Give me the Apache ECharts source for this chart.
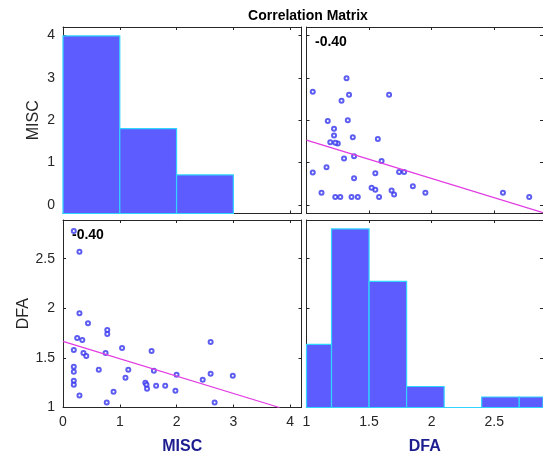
<!DOCTYPE html>
<html>
<head>
<meta charset="utf-8">
<title>Correlation Matrix</title>
<script src="https://cdn.jsdelivr.net/npm/echarts@6/dist/echarts.min.js"></script>
<style>
    html, body { margin: 0; padding: 0; background: #fff; }
    #main { width: 543px; height: 457px; }
</style>
</head>
<body>
<div id="main"></div>
<script type="text/javascript">
    var misc = [0.19, 0.29, 0.29, 0.44, 0.78, 0.78, 0.25, 0.34, 0.19, 0.36, 0.41, 0.75, 1.04,
                1.56, 2.60, 0.19, 0.19, 0.63, 1.15, 1.60, 0.19, 0.19, 1.10, 1.45, 1.47, 1.48,
                1.64, 1.80, 2.00, 2.46, 2.60, 2.99, 1.98, 0.89, 0.29, 0.77, 2.67];
    var dfa = [2.78, 2.57, 1.95, 1.85, 1.78, 1.74, 1.70, 1.68, 1.58, 1.55, 1.52, 1.55, 1.60,
               1.57, 1.66, 1.41, 1.36, 1.38, 1.38, 1.37, 1.27, 1.23, 1.30, 1.25, 1.23, 1.19,
               1.22, 1.22, 1.33, 1.28, 1.34, 1.32, 1.17, 1.16, 1.12, 1.05, 1.05];

    // histograms on the diagonal
    var miscEdges = [0, 1, 2, 3];
    var miscCounts = [23, 11, 5];
    var dfaEdges = [0.9, 1.2, 1.5, 1.8, 2.1, 2.4, 2.7, 3.0];
    var dfaCounts = [6, 17, 12, 2, 0, 1, 1];

    // least squares lines (end points)
    var fitMiscOnDfa = [[1.0, 1.53], [2.89, -0.18]];
    var fitDfaOnMisc = [[0, 1.667], [3.81, 1.0]];
    var corrText = '-0.40';

    // tick labels
    var miscTicks = [0, 1, 2, 3, 4];
    var dfaTicks = [1, 1.5, 2, 2.5];

    var FONT = 'Liberation Sans, Arial, sans-serif';
    var INK = '#262626';
    var NAVY = '#1d1d8f';

    function histData(edges, counts) {
        var out = [];
        for (var i = 0; i < counts.length; i++) {
            out.push([edges[i], edges[i + 1], counts[i]]);
        }
        return out;
    }

    function pairs(xs, ys) {
        var out = [];
        for (var i = 0; i < xs.length; i++) out.push([xs[i], ys[i]]);
        return out;
    }

    // one value axis; labels only when asked
    function axis(grid, pos, min, max, ticks, withLabels, name) {
        var a = {
            type: 'value', gridIndex: grid, position: pos, min: min, max: max,
            splitLine: { show: false },
            axisLine: { show: true, onZero: false, lineStyle: { color: INK, width: 1 } },
            axisTick: { show: true, inside: true, length: 3, customValues: ticks,
                        lineStyle: { color: INK } },
            axisLabel: { show: withLabels, customValues: ticks, color: INK, fontSize: 14,
                         fontFamily: FONT, margin: 8 }
        };
        if (name) {
            a.name = name;
            a.nameLocation = 'middle';
        }
        return a;
    }

    function renderBar(params, api) {
        var p0 = api.coord([api.value(0), 0]);
        var p1 = api.coord([api.value(1), api.value(2)]);
        var rect = echarts.graphic.clipRectByRect({
            x: p0[0], y: p1[1], width: p1[0] - p0[0], height: p0[1] - p1[1]
        }, {
            x: params.coordSys.x, y: params.coordSys.y,
            width: params.coordSys.width, height: params.coordSys.height
        });
        return rect && {
            type: 'rect',
            shape: rect,
            style: { fill: '#5c5cff', stroke: '#30d4ff', lineWidth: 1.2 }
        };
    }

    var MISC_X = [0, 4.2], MISC_Y = [-0.2, 4.2], DFA_R = [1, 2.89];

    var xAxes = [
        axis(0, 'bottom', MISC_X[0], MISC_X[1], miscTicks, false),
        axis(1, 'bottom', DFA_R[0], DFA_R[1], dfaTicks, false),
        axis(2, 'bottom', MISC_X[0], MISC_X[1], miscTicks, true, 'MISC'),
        axis(3, 'bottom', DFA_R[0], DFA_R[1], dfaTicks, true, 'DFA'),
        axis(0, 'top', MISC_X[0], MISC_X[1], miscTicks, false),
        axis(1, 'top', DFA_R[0], DFA_R[1], dfaTicks, false),
        axis(2, 'top', MISC_X[0], MISC_X[1], miscTicks, false),
        axis(3, 'top', DFA_R[0], DFA_R[1], dfaTicks, false)
    ];
    var yAxes = [
        axis(0, 'left', MISC_Y[0], MISC_Y[1], miscTicks, true, 'MISC'),
        axis(1, 'left', MISC_Y[0], MISC_Y[1], miscTicks, false),
        axis(2, 'left', DFA_R[0], DFA_R[1], dfaTicks, true, 'DFA'),
        axis(3, 'left', DFA_R[0], DFA_R[1], dfaTicks, false),
        axis(0, 'right', MISC_Y[0], MISC_Y[1], miscTicks, false),
        axis(1, 'right', MISC_Y[0], MISC_Y[1], miscTicks, false),
        axis(2, 'right', DFA_R[0], DFA_R[1], dfaTicks, false),
        axis(3, 'right', DFA_R[0], DFA_R[1], dfaTicks, false),
        // hidden count axes for the histograms
        { type: 'value', gridIndex: 0, show: false, min: 0, max: 24.15 },
        { type: 'value', gridIndex: 3, show: false, min: 0, max: 17.85 }
    ];

    xAxes[2].nameGap = 31;
    xAxes[3].nameGap = 31;
    xAxes[2].nameTextStyle = xAxes[3].nameTextStyle =
        { color: NAVY, fontSize: 16, fontWeight: 'bold', fontFamily: FONT };
    yAxes[0].nameGap = 21;
    yAxes[2].nameGap = 21;
    yAxes[0].nameTextStyle = yAxes[2].nameTextStyle =
        { color: INK, fontSize: 16, fontFamily: FONT };

    var scatterStyle = {
        type: 'scatter', symbol: 'emptyCircle', symbolSize: 4, silent: true,
        itemStyle: { color: '#3535ee', borderWidth: 0.9 }
    };
    var lineStyle = {
        type: 'line', showSymbol: false, clip: true, silent: true,
        lineStyle: { color: '#e23be2', width: 1.3 }
    };

    var myChart = echarts.init(document.getElementById('main'));
    myChart.setOption({
        animation: false,
        backgroundColor: '#fff',
        title: {
            text: 'Correlation Matrix', left: 303, top: 4, textAlign: 'center',
            textStyle: { fontSize: 14, fontWeight: 'bold', color: '#000', fontFamily: FONT }
        },
        grid: [
            { left: 63, top: 27, width: 238.5, height: 186.5 },
            { left: 306.5, top: 27, width: 237, height: 186.5 },
            { left: 63, top: 220, width: 238.5, height: 187.5 },
            { left: 306.5, top: 220, width: 237, height: 187.5 }
        ],
        xAxis: xAxes,
        yAxis: yAxes,
        graphic: [
            { type: 'text', left: 315, top: 35, z: 10,
              style: { text: corrText, font: 'bold 14px ' + FONT, fill: '#000' } },
            { type: 'text', left: 72, top: 228, z: 10,
              style: { text: corrText, font: 'bold 14px ' + FONT, fill: '#000' } }
        ],
        series: [
            { type: 'custom', xAxisIndex: 0, yAxisIndex: 8, renderItem: renderBar,
              encode: { x: [0, 1], y: 2 }, data: histData(miscEdges, miscCounts), silent: true },
            { type: 'custom', xAxisIndex: 3, yAxisIndex: 9, renderItem: renderBar,
              encode: { x: [0, 1], y: 2 }, data: histData(dfaEdges, dfaCounts), silent: true },
            Object.assign({}, scatterStyle, { xAxisIndex: 1, yAxisIndex: 1, data: pairs(dfa, misc) }),
            Object.assign({}, scatterStyle, { xAxisIndex: 2, yAxisIndex: 2, data: pairs(misc, dfa) }),
            Object.assign({}, lineStyle, { xAxisIndex: 1, yAxisIndex: 1, data: fitMiscOnDfa }),
            Object.assign({}, lineStyle, { xAxisIndex: 2, yAxisIndex: 2, data: fitDfaOnMisc })
        ]
    });
</script>
</body>
</html>
